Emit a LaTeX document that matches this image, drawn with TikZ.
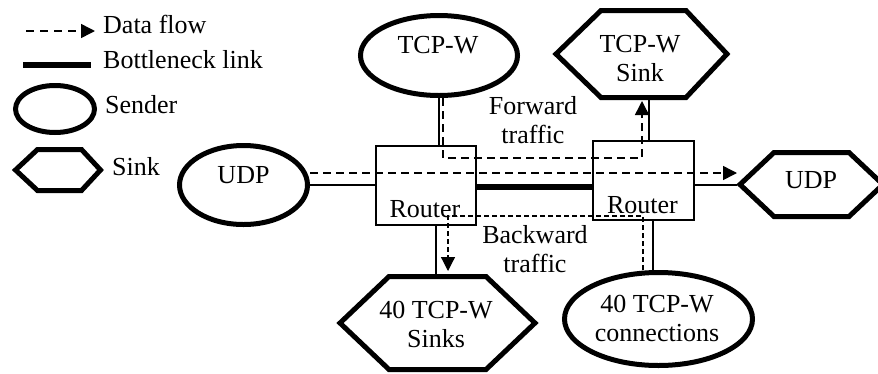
\documentclass[tikz,border=0pt]{standalone}
\usepackage{fontspec}
\setmainfont{Liberation Serif}
\usetikzlibrary{arrows.meta,shapes.geometric}
\newcommand\twol[2]{\begin{tabular}[t]{@{}c@{}}#1\\#2\end{tabular}}
\tikzset{
  sender/.style={draw, ellipse, line width=5pt, inner sep=0pt},
  sinkhex/.style={draw, line width=5pt, line join=miter},
  router/.style={draw, rectangle, line width=2pt, inner sep=0pt},
  link/.style={line width=1.5pt},
  bottleneck/.style={line width=5.5pt},
  flow/.style={line width=1.5pt, dash pattern=on 8pt off 5pt, -{Triangle[length=14pt,width=14pt]}},
  backflow/.style={flow, line width=1.2pt, dash pattern=on 5pt off 3pt},
  lbl/.style={inner sep=0pt, anchor=base, font=\fontsize{26}{29.5}\selectfont},
}
\begin{document}
\begin{tikzpicture}[x=1pt,y=-1pt]
\useasboundingbox (0,0) rectangle (878,373);

% ---------- legend ----------
\coordinate (lgA) at (26,31);
\coordinate (lgB) at (95,31);
\draw[flow, dash pattern=on 8pt off 6pt] (lgA) -- (lgB);
\node[lbl, anchor=base west] (lgDataT) at (103,33) {Data flow};
\coordinate (lgC) at (23,65);
\coordinate (lgD) at (91,65);
\draw[bottleneck] (lgC) -- (lgD);
\node[lbl, anchor=base west] (lgBotT) at (103,68) {Bottleneck link};
\node[sender, minimum width=79pt, minimum height=47pt] (lgSender) at (55,109) {};
\node[lbl, anchor=base west] (lgSenderT) at (105,113) {Sender};
\draw[sinkhex] (15.5,170) -- (37.5,149.5) -- (81.5,149.5) -- (100.5,170) -- (81.5,190.5) -- (37.5,190.5) -- cycle;
\node[lbl, anchor=base west] (lgSinkT) at (112,175) {Sink};

% ---------- senders ----------
\node[sender, minimum width=128pt, minimum height=79pt] (udpL) at (243.5,185) {};
\node[lbl] (udpLT) at (243.5,183) {UDP};
\node[sender, minimum width=157pt, minimum height=80pt] (tcpw) at (439,55.5) {};
\node[lbl] (tcpwT) at (438,53) {TCP-W};
\node[sender, minimum width=188pt, minimum height=93pt] (conn) at (658.5,319) {};
\node[lbl] (connT) at (657,312) {\twol{40 TCP-W}{connections}};

% ---------- routers ----------
\node[router, minimum width=100pt, minimum height=79pt] (routerL) at (426,185.5) {};
\node[lbl] (routerLT) at (425,217) {Router};
\node[router, minimum width=101pt, minimum height=79pt] (routerR) at (643.5,180.5) {};
\node[lbl] (routerRT) at (642.5,213) {Router};

% ---------- sinks ----------
\draw[sinkhex] (556,54) -- (601,10.5) -- (686,10.5) -- (727,54) -- (686,97.5) -- (601,97.5) -- cycle;
\node[lbl] (tsinkT) at (640,52) {\twol{TCP-W}{Sink}};
\draw[sinkhex] (740,184.5) -- (774,152.5) -- (849,152.5) -- (883,184.5) -- (849,216.5) -- (774,216.5) -- cycle;
\node[lbl] (udpRT) at (811,188) {UDP};
\draw[sinkhex] (340,323) -- (389,276.5) -- (486,276.5) -- (535,323) -- (486,369.5) -- (389,369.5) -- cycle;
\node[lbl] (sinksT) at (436,318) {\twol{40 TCP-W}{Sinks}};

% ---------- connection points ----------
\coordinate (udpRL) at (737,185);
\coordinate (tsinkB) at (649,99);
\coordinate (sinksTop) at (436,274);
\coordinate (connTop) at (653,271);

% ---------- links ----------
\draw[link] (udpL.east) -- (udpL.east -| routerL.west);
\draw[link] (routerR.east |- udpRL) -- (udpRL);
\draw[bottleneck] (routerL.east |- 0,187) -- (routerR.west |- 0,187);
\draw[link] (tcpw.south) -- (tcpw.south |- routerL.north);
\draw[link] (routerR.north -| tsinkB) -- (tsinkB);
\draw[link] (routerL.south -| sinksTop) -- (sinksTop);
\draw[link] (routerR.south -| connTop) -- (connTop);

% ---------- flows ----------
\coordinate (udpFlowEnd) at (737,173);
\draw[flow] (udpL.east |- udpFlowEnd) -- (udpFlowEnd);
\coordinate (fwdC) at (443,158);
\coordinate (fwdEnd) at (642,101);
\draw[flow] (tcpw.south -| fwdC) -- (fwdC) -- (fwdC -| fwdEnd) -- (fwdEnd);
\coordinate (bwC) at (643,216);
\coordinate (bwEnd) at (448,271);
\draw[backflow] (conn.north -| bwC) -- (bwC) -- (bwC -| bwEnd) -- (bwEnd);

% ---------- traffic labels ----------
\node[lbl] (fwdT) at (533,114) {\twol{Forward}{traffic}};
\node[lbl] (bwT) at (535,243) {\twol{Backward}{traffic}};
\end{tikzpicture}
\end{document}
